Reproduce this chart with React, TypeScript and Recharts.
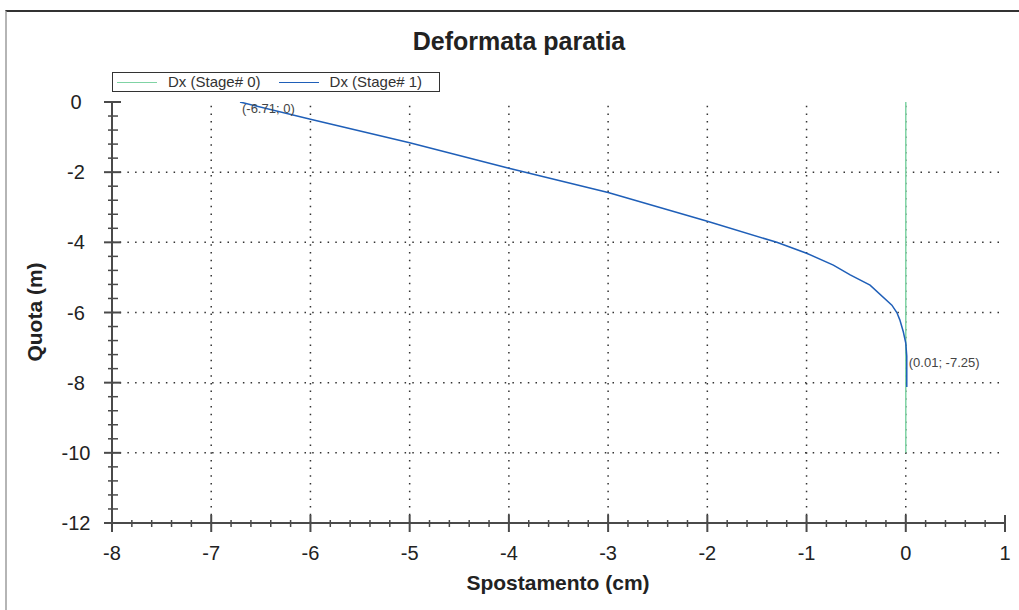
import React from 'react';
import { LineChart, Line, XAxis, YAxis, ReferenceLine, LabelList, Legend } from 'recharts';

// ---- data ----
const stage0X = [0, 0];
const stage0Y = [0, -10];

const stage1X = [-6.71, -6, -5, -4, -3, -2, -1.3, -1, -0.73, -0.56, -0.36, -0.14, -0.09, -0.06, -0.025, 0, 0.01, 0.01];
const stage1Y = [0, -0.49, -1.16, -1.89, -2.58, -3.4, -4.0, -4.31, -4.65, -4.93, -5.22, -5.79, -6.0, -6.21, -6.55, -6.87, -7.25, -8.12];
const stage1Labels = ['(-6.71; 0)', '', '', '', '', '', '', '', '', '', '', '', '', '', '', '', '(0.01; -7.25)', ''];

const seriesNames = ['Dx (Stage# 0)', 'Dx (Stage# 1)'];
const seriesColors = ['#7fd3a4', '#1f5fb8'];

const xMajorTicks = [-8, -7, -6, -5, -4, -3, -2, -1, 0, 1];
const yMajorTicks = [0, -2, -4, -6, -8, -10, -12];
const xGridValues = [-7, -6, -5, -4, -3, -2, -1, 0];
const yGridValues = [-2, -4, -6, -8, -10];
const xMinorStep = 0.2;
const yMinorStep = 0.4;

const xTicks = Array.from({ length: Math.round(9 / xMinorStep) + 1 }, (_, i) => +(-8 + i * xMinorStep).toFixed(2));
const yTicks = Array.from({ length: Math.round(12 / yMinorStep) + 1 }, (_, i) => +(-i * yMinorStep).toFixed(2));

const stage0Data = stage0X.map((x, i) => ({ x, y: stage0Y[i] }));
const stage1Data = stage1X.map((x, i) => ({ x, y: stage1Y[i], label: stage1Labels[i] }));

const FONT = '"Liberation Sans", Arial, sans-serif';
const AXIS_COLOR = '#4a4a4a';
const TEXT_COLOR = '#222';

const isMajor = (v: number, list: number[]) => list.some((m) => Math.abs(m - v) < 1e-6);

const BottomTick = (props: any) => {
  const { x, y, payload } = props;
  const v = payload.value;
  if (isMajor(v, xMajorTicks)) {
    return (
      <g>
        <line x1={x} x2={x} y1={y - 8} y2={y + 9} stroke={AXIS_COLOR} strokeWidth={2} />
        <text x={x} y={y + 37} textAnchor="middle" fontSize={20} fontFamily={FONT} fill={TEXT_COLOR}>
          {String(Math.round(v))}
        </text>
      </g>
    );
  }
  return <line x1={x} x2={x} y1={y - 3} y2={y + 4} stroke={AXIS_COLOR} strokeWidth={1.5} />;
};

const TopTick = (props: any) => {
  const { x, y, payload } = props;
  const major = isMajor(payload.value, xMajorTicks);
  return <line x1={x} x2={x} y1={y} y2={y + (major ? 8 : 5)} stroke={AXIS_COLOR} strokeWidth={major ? 2 : 1.5} />;
};

const LeftTick = (props: any) => {
  const { x, y, payload } = props;
  const v = payload.value;
  if (isMajor(v, yMajorTicks)) {
    return (
      <g>
        <line x1={x - 8} x2={x + 9} y1={y} y2={y} stroke={AXIS_COLOR} strokeWidth={2} />
        <text x={x - 36} y={y + 7} textAnchor="middle" fontSize={20} fontFamily={FONT} fill={TEXT_COLOR}>
          {String(Math.round(v))}
        </text>
      </g>
    );
  }
  return <line x1={x - 4} x2={x + 6} y1={y} y2={y} stroke={AXIS_COLOR} strokeWidth={1.5} />;
};

const RightTick = (props: any) => {
  const { x, y, payload } = props;
  const major = isMajor(payload.value, yMajorTicks);
  return <line x1={x - (major ? 8 : 4)} x2={x} y1={y} y2={y} stroke={AXIS_COLOR} strokeWidth={major ? 2 : 1.5} />;
};

const PointLabel = (props: any) => {
  const { x, y, value } = props;
  if (!value) return null;
  return (
    <text x={x + 2} y={y + 11} fontSize={13} fontFamily={FONT} fill="#444" textAnchor="start">
      {value}
    </text>
  );
};

const LegendBox = (props: any) => {
  const payload = props.payload || [];
  return (
    <div
      style={{
        boxSizing: 'border-box',
        width: 328,
        height: 20,
        border: '1.5px solid #333',
        background: '#fff',
        display: 'flex',
        alignItems: 'center',
        fontFamily: FONT,
        fontSize: 15,
        color: '#333',
        paddingLeft: 4,
      }}
    >
      {payload.map((p: any, i: number) => (
        <div key={i} style={{ display: 'flex', alignItems: 'center', marginRight: 18 }}>
          <div style={{ width: 40, height: 0, borderTop: `1.5px solid ${p.color}`, marginRight: 11 }} />
          <span style={{ whiteSpace: 'nowrap', lineHeight: '18px' }}>{p.value}</span>
        </div>
      ))}
    </div>
  );
};

export default function App() {
  return (
    <div style={{ position: 'absolute', left: 0, top: 0, width: 1019, height: 610, background: '#fff', fontFamily: FONT }}>
      <div
        style={{
          position: 'absolute',
          left: 5,
          top: 10,
          width: 1014,
          height: 600,
          borderTop: '2px solid #333',
          borderLeft: '2px solid #b5b5b5',
          boxSizing: 'border-box',
        }}
      />
      <div
        style={{
          position: 'absolute',
          left: 0,
          width: 1038,
          top: 26,
          textAlign: 'center',
          fontSize: 25,
          fontWeight: 'bold',
          color: TEXT_COLOR,
          lineHeight: '30px',
        }}
      >
        Deformata paratia
      </div>
      <div
        style={{
          position: 'absolute',
          left: 112,
          width: 892,
          top: 570,
          textAlign: 'center',
          fontSize: 21,
          fontWeight: 'bold',
          color: TEXT_COLOR,
          lineHeight: '26px',
        }}
      >
        Spostamento (cm)
      </div>
      <div
        style={{
          position: 'absolute',
          left: 35,
          top: 312,
          transform: 'translate(-50%, -50%) rotate(-90deg)',
          fontSize: 21,
          fontWeight: 'bold',
          color: TEXT_COLOR,
          whiteSpace: 'nowrap',
          lineHeight: '26px',
        }}
      >
        Quota (m)
      </div>
      <div style={{ position: 'absolute', left: 0, top: 0 }}>
        <LineChart width={1019} height={610} margin={{ top: 102, right: 14, bottom: 57, left: 52 }}>
          <XAxis
            xAxisId={0}
            dataKey="x"
            type="number"
            domain={[-8, 1]}
            ticks={xTicks}
            interval={0}
            allowDataOverflow
            height={30}
            tickSize={0}
            tickMargin={0}
            tickLine={false}
            axisLine={{ stroke: AXIS_COLOR, strokeWidth: 2 }}
            tick={<BottomTick />}
          />
          <XAxis
            xAxisId="top"
            orientation="top"
            dataKey="x"
            type="number"
            domain={[-8, 1]}
            ticks={xTicks}
            interval={0}
            allowDataOverflow
            height={0}
            tickSize={0}
            tickMargin={0}
            tickLine={false}
            axisLine={{ stroke: AXIS_COLOR, strokeWidth: 2 }}
            tick={<TopTick />}
          />
          <YAxis
            yAxisId={0}
            dataKey="y"
            type="number"
            domain={[-12, 0]}
            ticks={yTicks}
            interval={0}
            allowDataOverflow
            width={60}
            tickSize={0}
            tickMargin={0}
            tickLine={false}
            axisLine={{ stroke: AXIS_COLOR, strokeWidth: 2 }}
            tick={<LeftTick />}
          />
          <YAxis
            yAxisId="right"
            orientation="right"
            dataKey="y"
            type="number"
            domain={[-12, 0]}
            ticks={yTicks}
            interval={0}
            allowDataOverflow
            width={0}
            tickSize={0}
            tickMargin={0}
            tickLine={false}
            axisLine={{ stroke: AXIS_COLOR, strokeWidth: 2 }}
            tick={<RightTick />}
          />
          {xGridValues.map((v) => (
            <ReferenceLine key={'gx' + v} x={v} stroke="#333" strokeWidth={1.5} strokeDasharray="1.5 6.2" />
          ))}
          {yGridValues.map((v) => (
            <ReferenceLine key={'gy' + v} y={v} stroke="#333" strokeWidth={1.5} strokeDasharray="1.5 6.2" />
          ))}
          <Legend
            layout="horizontal"
            verticalAlign="middle"
            align="center"
            wrapperStyle={{ top: 72, left: 112, width: 328, height: 20 }}
            content={<LegendBox />}
          />
          <Line
            data={stage0Data}
            dataKey="y"
            name={seriesNames[0]}
            stroke={seriesColors[0]}
            strokeWidth={1.5}
            dot={false}
            activeDot={false}
            isAnimationActive={false}
            type="linear"
          />
          <Line
            data={stage1Data}
            dataKey="y"
            name={seriesNames[1]}
            stroke={seriesColors[1]}
            strokeWidth={1.5}
            dot={false}
            activeDot={false}
            isAnimationActive={false}
            type="linear"
          >
            <LabelList dataKey="label" content={<PointLabel />} />
          </Line>
        </LineChart>
      </div>
    </div>
  );
}
